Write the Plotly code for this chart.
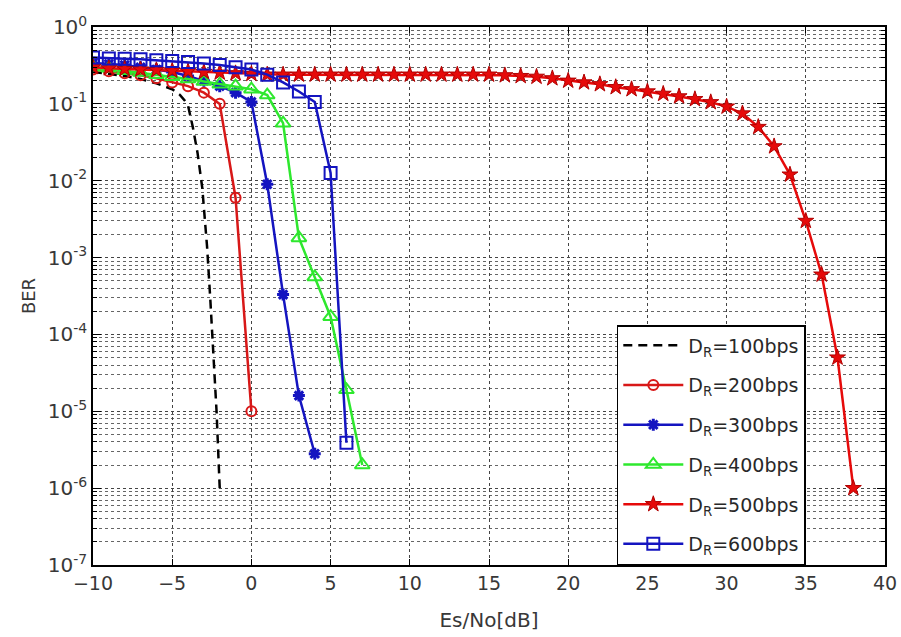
import plotly.graph_objects as go

# ---------------- data ----------------
x100 = [-10, -9, -8, -7, -6, -5, -4.5, -4.2, -4, -3.7, -3.4, -3.1, -2.8, -2.6, -2.4, -2.2, -2.0]
ber100 = [0.26, 0.245, 0.23, 0.21, 0.185, 0.155, 0.13, 0.11, 0.095, 0.05, 0.023, 8e-3, 1.4e-3, 3e-4, 6e-5, 1e-5, 1e-6]

x200 = [-10, -9, -8, -7, -6, -5, -4, -3, -2, -1, 0]
ber200 = [0.28, 0.265, 0.25, 0.235, 0.215, 0.19, 0.17, 0.14, 0.10, 6e-3, 1e-5]

x300 = [-10, -9, -8, -7, -6, -5, -4, -3, -2, -1, 0, 1, 2, 3, 4]
ber300 = [0.34, 0.33, 0.32, 0.30, 0.28, 0.26, 0.23, 0.20, 0.17, 0.14, 0.106, 9e-3, 3.3e-4, 1.6e-5, 2.8e-6]

x400 = [-10, -9, -8, -7, -6, -5, -4, -3, -2, -1, 0, 1, 2, 3, 4, 5, 6, 7]
ber400 = [0.30, 0.29, 0.27, 0.255, 0.24, 0.225, 0.21, 0.195, 0.18, 0.17, 0.155, 0.13, 0.056,
          1.8e-3, 5.6e-4, 1.7e-4, 1.9e-5, 2e-6]

x500 = list(range(-10, 39))
ber500 = [0.30, 0.29, 0.285, 0.28, 0.275, 0.27, 0.265, 0.26, 0.255, 0.25, 0.245,
          0.24, 0.24, 0.24, 0.24, 0.24, 0.24, 0.24, 0.24, 0.24, 0.24,
          0.24, 0.24, 0.24, 0.24, 0.24, 0.235, 0.23, 0.225, 0.215, 0.20,
          0.19, 0.18, 0.165, 0.155, 0.145,
          0.135, 0.125, 0.115, 0.105, 0.092,
          0.075, 0.05, 0.028, 0.012, 3e-3,
          6e-4, 5e-5, 1e-6]

x600 = [-10, -9, -8, -7, -6, -5, -4, -3, -2, -1, 0, 1, 2, 3, 4, 5, 6]
ber600 = [0.40, 0.39, 0.385, 0.38, 0.37, 0.36, 0.35, 0.335, 0.32, 0.30, 0.28, 0.24, 0.19,
          0.145, 0.106, 0.0126, 3.9e-6]

names = ["D<sub>R</sub>=100bps", "D<sub>R</sub>=200bps", "D<sub>R</sub>=300bps",
         "D<sub>R</sub>=400bps", "D<sub>R</sub>=500bps", "D<sub>R</sub>=600bps"]

xticks = [-10, -5, 0, 5, 10, 15, 20, 25, 30, 35, 40]
yticks = [1e-7, 1e-6, 1e-5, 1e-4, 1e-3, 1e-2, 1e-1, 1e0]
yticktext = ["10<sup>-7</sup>", "10<sup>-6</sup>", "10<sup>-5</sup>", "10<sup>-4</sup>",
             "10<sup>-3</sup>", "10<sup>-2</sup>", "10<sup>-1</sup>", "10<sup>0</sup>"]

# ---------------- figure ----------------
RED = "#d81818"
RED2 = "#e60a0a"
BLUE = "#1414c0"
GREEN = "#2ee82e"

fig = go.Figure()
fig.add_trace(go.Scatter(x=x100, y=ber100, name=names[0], mode="lines", legendgroup="a",
                         line=dict(color="black", width=2.5, dash="9px,6px")))
fig.add_trace(go.Scatter(x=x200, y=ber200, name=names[1], mode="lines+markers", legendgroup="b",
                         line=dict(color=RED, width=2.5),
                         marker=dict(symbol="circle-open", size=10, color=RED, line=dict(width=2))))
fig.add_trace(go.Scatter(x=x300, y=ber300, name=names[2], mode="lines+markers", legendgroup="c",
                         line=dict(color=BLUE, width=2.5),
                         marker=dict(symbol="asterisk-open", size=10, color=BLUE, line=dict(width=3, color=BLUE))))
fig.add_trace(go.Scatter(x=x400, y=ber400, name=names[3], mode="lines+markers", legendgroup="d",
                         line=dict(color=GREEN, width=2.5),
                         marker=dict(symbol="triangle-up-open", size=13, color=GREEN, line=dict(width=2))))
fig.add_trace(go.Scatter(x=x500, y=ber500, name=names[4], mode="lines+markers", legendgroup="e",
                         line=dict(color=RED2, width=2.5),
                         marker=dict(symbol="star", size=12, color=RED2, line=dict(width=1, color="#b00000"))))
fig.add_trace(go.Scatter(x=x600, y=ber600, name=names[5], mode="lines+markers", legendgroup="f",
                         line=dict(color=BLUE, width=2.5),
                         marker=dict(symbol="square-open", size=12, color=BLUE, line=dict(width=2))))

FONT = "DejaVu Sans, Verdana, sans-serif"

fig.update_layout(
    width=901, height=637,
    margin=dict(l=93, r=16, t=27, b=72),
    paper_bgcolor="white", plot_bgcolor="white",
    font=dict(family=FONT, size=19, color="#383838"),
    showlegend=True,
    legend=dict(x=0.9, xanchor="right", y=0.0, yanchor="bottom",
                bgcolor="white", bordercolor="black", borderwidth=1.5,
                font=dict(family=FONT, size=19, color="#282828"),
                tracegroupgap=12, itemwidth=60),
    xaxis=dict(range=[-10, 40], tickvals=xticks, ticks="inside", ticklen=6,
               tickcolor="black", showline=True, linecolor="black", linewidth=1.5,
               mirror="ticks", showgrid=True, gridcolor="#444444", griddash="dot",
               gridwidth=1, zeroline=False, automargin=False,
               title=dict(text="Es/No[dB]", standoff=20, font=dict(size=20)),
               tickfont=dict(size=19)),
    yaxis=dict(type="log", range=[-7, 0], tickvals=yticks, ticktext=yticktext,
               ticks="inside", ticklen=8, tickcolor="black",
               showline=True, linecolor="black", linewidth=1.5, mirror="ticks",
               showgrid=True, gridcolor="#444444", griddash="dot", gridwidth=1,
               zeroline=False, automargin=False,
               minor=dict(dtick="D1", ticks="inside", ticklen=4, tickcolor="black",
                          showgrid=True, gridcolor="#666666", griddash="dot", gridwidth=1),
               title=dict(text="BER", standoff=8, font=dict(size=18)),
               tickfont=dict(size=20)),
)

fig.write_html("out.html")
